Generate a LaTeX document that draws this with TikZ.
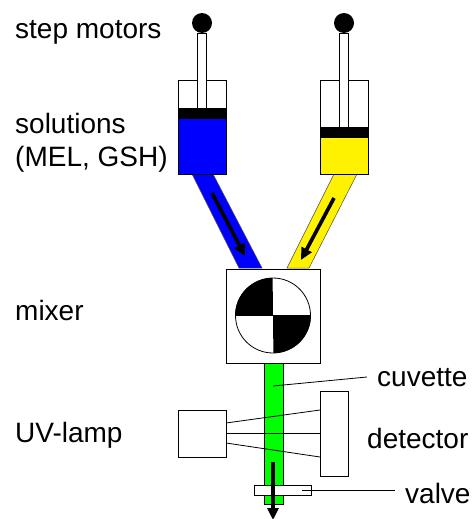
\documentclass[tikz,border=0pt]{standalone}
\usepackage{fontspec}
\setmainfont{Liberation Sans}
\usetikzlibrary{arrows.meta}
\tikzset{
  lbl/.style={anchor=base west,inner sep=0pt,font=\fontsize{28}{33}\selectfont},
  box/.style={draw,line width=0.9pt,fill=white,inner sep=0pt,outer sep=0pt},
  flow/.style={line width=3.6pt,-{Triangle[length=12pt,width=11pt]}},
  leader/.style={line width=0.8pt},
}
\begin{document}
\begin{tikzpicture}[x=1pt,y=-1pt]
\useasboundingbox(0,0)rectangle(472,519);
% tubes
\fill[blue,draw=black!70,line width=0.5pt](192,174)--(213,174)--(262,268)--(239,268)--cycle;
\fill[yellow,draw=black!70,line width=0.5pt](334,174)--(357,174)--(309,268)--(287,268)--cycle;
% syringes
\foreach \sx/\stop/\scol/\sname in {202/118/blue/l,344/137/yellow/r}{
  \node[box,minimum width=48pt,minimum height=94pt](barrel\sname)at(\sx,127){};
  \node[box,fill=\scol,minimum width=48pt,minimum height=174pt-\stop pt](liquid\sname)at(\sx,{(174+\stop)/2}){};
  \node[box,minimum width=9.5pt,minimum height=\stop pt-43pt](rod\sname)at(\sx,{(33+\stop-10)/2}){};
  \node[box,fill=black,minimum width=48pt,minimum height=10pt](piston\sname)at(\sx,\stop-5){};
  \node[circle,fill=black,minimum size=20pt,inner sep=0pt](motor\sname)at(\sx,23){};
}
% cuvette
\node[box,fill=green,minimum width=19pt,minimum height=141pt](cuvette)at(273.5,433.5){};
% mixer
\node[box,minimum width=94pt,minimum height=94pt](mixer)at(273,316){};
\node[circle,draw,fill=white,line width=0.8pt,minimum size=75pt,inner sep=0pt](wheel)at(273,315.5){};
\fill(wheel.center)--(wheel.west)arc(180:90:37.5pt)--cycle;
\fill(wheel.center)--(wheel.east)arc(0:-90:37.5pt)--cycle;
\draw[line width=0.8pt](wheel.west)--(wheel.east);
% optics
\node[box,minimum width=48pt,minimum height=47pt](lamp)at(202,433.5){};
\node[box,minimum width=28pt,minimum height=85pt](detector)at(334,433.5){};
\coordinate(lampa)at(226,423);
\coordinate(lampb)at(226,443);
\coordinate(deta)at(320,410);
\coordinate(detb)at(320,457);
\draw[leader](lampa)--(deta);
\draw[leader](lamp.east)--(detector.west);
\draw[leader](lampb)--(detb);
% valve
\node[box,minimum width=57pt,minimum height=10pt](valve)at(282.5,490){};
% flow arrows
\coordinate(flowla)at(212,193);\coordinate(flowlb)at(245,256);
\coordinate(flowra)at(334,198);\coordinate(flowrb)at(301,260);
\coordinate(flowda)at(273,462);\coordinate(flowdb)at(273,520);
\draw[flow](flowla)--(flowlb);
\draw[flow](flowra)--(flowrb);
\draw[flow](flowda)--(flowdb);
% labels
\node[lbl](motors)at(15,38.5){step motors};
\node[lbl,align=left](solutions)at(15,166){solutions\\(MEL, GSH)};
\node[lbl](mixertxt)at(15,320){mixer};
\node[lbl](uvlamp)at(15,442){UV-lamp};
\node[lbl](cuvettetxt)at(377,386){cuvette};
\node[lbl](detectortxt)at(367,448.5){detector};
\node[lbl](valvetxt)at(405,503){valve};
% leaders
\coordinate(cuvettept)at(273,386);
\coordinate(cuvetteend)at(367,377);
\coordinate(valvept)at(302,490);
\coordinate(valveend)at(395,490);
\draw[leader](cuvettept)--(cuvetteend);
\draw[leader](valvept)--(valveend);
\end{tikzpicture}
\end{document}
